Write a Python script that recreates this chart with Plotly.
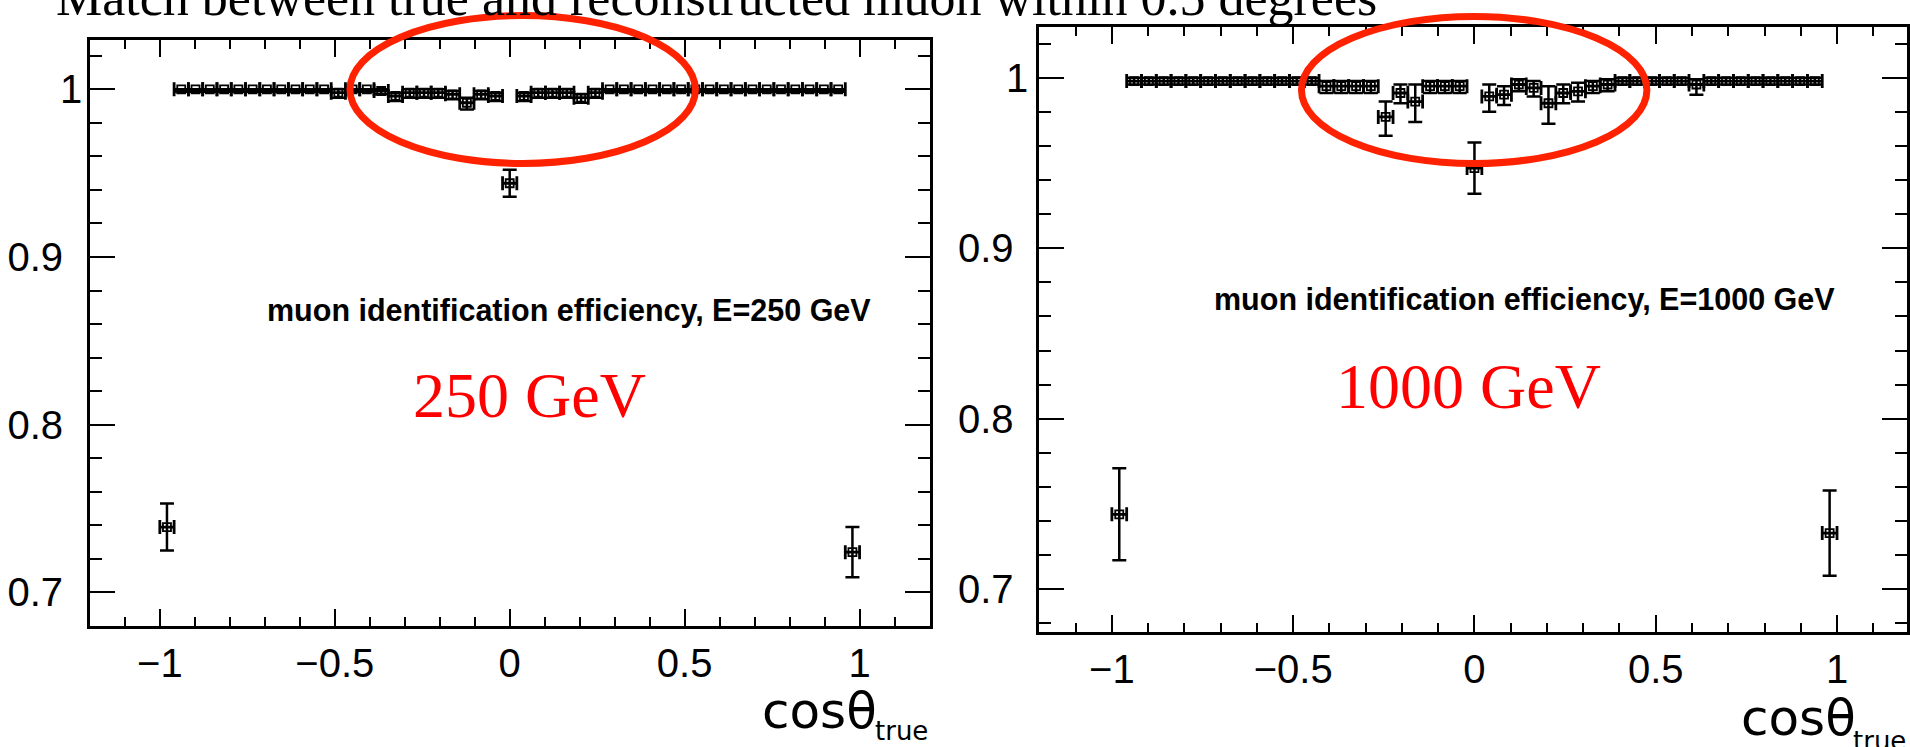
import plotly.graph_objects as go

W, H = 1910, 747

# ---- data ----
cos_theta = [-0.9796, -0.9388, -0.8980, -0.8571, -0.8163, -0.7755, -0.7347, -0.6939, -0.6531, -0.6122,
             -0.5714, -0.5306, -0.4898, -0.4490, -0.4082, -0.3673, -0.3265, -0.2857, -0.2449, -0.2041,
             -0.1633, -0.1224, -0.0816, -0.0408, 0.0, 0.0408, 0.0816, 0.1224, 0.1633, 0.2041,
             0.2449, 0.2857, 0.3265, 0.3673, 0.4082, 0.4490, 0.4898, 0.5306, 0.5714, 0.6122,
             0.6531, 0.6939, 0.7347, 0.7755, 0.8163, 0.8571, 0.8980, 0.9388, 0.9796]
bin_half_width = 0.0204

eff_250 = [0.739, 1.0, 1.0, 1.0, 1.0, 1.0, 1.0, 1.0, 1.0, 1.0,
           1.0, 1.0, 0.998, 1.0, 1.0, 0.999, 0.996, 0.998, 0.998, 0.998,
           0.997, 0.992, 0.997, 0.996, 0.944, 0.996, 0.998, 0.998, 0.998, 0.995,
           0.998, 1.0, 1.0, 1.0, 1.0, 1.0, 1.0, 1.0, 1.0, 1.0,
           1.0, 1.0, 1.0, 1.0, 1.0, 1.0, 1.0, 1.0, 0.724]
err_up_250 = [0.014, 0.0, 0.0, 0.0, 0.0, 0.0, 0.0, 0.0, 0.0, 0.0,
              0.0, 0.0, 0.002, 0.0, 0.0, 0.001, 0.002, 0.002, 0.002, 0.002,
              0.002, 0.003, 0.002, 0.002, 0.008, 0.002, 0.002, 0.002, 0.002, 0.002,
              0.002, 0.0, 0.0, 0.0, 0.0, 0.0, 0.0, 0.0, 0.0, 0.0,
              0.0, 0.0, 0.0, 0.0, 0.0, 0.0, 0.0, 0.0, 0.015]
err_dn_250 = [0.014, 0.0015, 0.0015, 0.0015, 0.0015, 0.0015, 0.0015, 0.0015, 0.0015, 0.0015,
              0.0015, 0.0015, 0.003, 0.0015, 0.0015, 0.002, 0.003, 0.003, 0.003, 0.003,
              0.003, 0.004, 0.003, 0.003, 0.008, 0.003, 0.003, 0.003, 0.003, 0.003,
              0.003, 0.0015, 0.0015, 0.0015, 0.0015, 0.0015, 0.0015, 0.0015, 0.0015, 0.0015,
              0.0015, 0.0015, 0.0015, 0.0015, 0.0015, 0.0015, 0.0015, 0.0015, 0.015]

eff_1000 = [0.744, 0.998, 0.998, 0.998, 0.998, 0.998, 0.998, 0.998, 0.998, 0.998,
            0.998, 0.998, 0.998, 0.998, 0.995, 0.995, 0.995, 0.995, 0.977, 0.991,
            0.986, 0.995, 0.995, 0.995, 0.947, 0.989, 0.990, 0.996, 0.994, 0.985,
            0.991, 0.992, 0.995, 0.996, 0.998, 0.998, 0.998, 0.998, 0.998, 0.996,
            0.998, 0.998, 0.998, 0.998, 0.998, 0.998, 0.998, 0.998, 0.733]
err_up_1000 = [0.027, 0.002, 0.002, 0.002, 0.002, 0.002, 0.002, 0.002, 0.002, 0.002,
               0.002, 0.002, 0.002, 0.002, 0.003, 0.003, 0.003, 0.003, 0.009, 0.005,
               0.010, 0.003, 0.003, 0.003, 0.015, 0.007, 0.005, 0.003, 0.004, 0.010,
               0.005, 0.005, 0.003, 0.003, 0.002, 0.002, 0.002, 0.002, 0.002, 0.003,
               0.002, 0.002, 0.002, 0.002, 0.002, 0.002, 0.002, 0.002, 0.025]
err_dn_1000 = [0.027, 0.002, 0.002, 0.002, 0.002, 0.002, 0.002, 0.002, 0.002, 0.002,
               0.002, 0.002, 0.002, 0.002, 0.004, 0.004, 0.004, 0.004, 0.011, 0.006,
               0.012, 0.004, 0.004, 0.004, 0.015, 0.009, 0.006, 0.004, 0.005, 0.012,
               0.006, 0.006, 0.004, 0.004, 0.002, 0.002, 0.002, 0.002, 0.002, 0.006,
               0.002, 0.002, 0.002, 0.002, 0.002, 0.002, 0.002, 0.002, 0.025]

y_tickvals = [0.7, 0.8, 0.9, 1.0]
y_ticktext = ["0.7", "0.8", "0.9", ""]   # the "1" label is placed separately (see below)
x_tickvals = [-1, -0.5, 0, 0.5, 1]
panel_labels = ["muon identification efficiency, E=250 GeV",
                "muon identification efficiency, E=1000 GeV"]
energy_labels = ["250 GeV", "1000 GeV"]
title_text = "Match between true and reconstructed muon within 0.5 degrees"


def px(x):
    return x / W


def py(y):
    return 1 - y / H


def trace(x, y, up, dn, xa, ya):
    return go.Scatter(
        x=x, y=y, mode="markers", xaxis=xa, yaxis=ya, showlegend=False,
        marker=dict(symbol="square-open", size=8, color="black", line=dict(width=1.8, color="black")),
        error_x=dict(type="constant", value=bin_half_width, color="black", thickness=2.8, width=7),
        error_y=dict(type="data", array=up, arrayminus=dn, symmetric=False,
                     color="black", thickness=2.5, width=7),
    )


fig = go.Figure()
fig.add_trace(trace(cos_theta, eff_250, err_up_250, err_dn_250, "x", "y"))
fig.add_trace(trace(cos_theta, eff_1000, err_up_1000, err_dn_1000, "x2", "y2"))

SANS = "Liberation Sans, Arial, sans-serif"
WIDE = "DejaVu Sans, Liberation Sans, sans-serif"
SERIF = "Liberation Serif, Times New Roman, serif"
tickfont = dict(family=SANS, size=40, color="black")


def xaxis(domain, rng, anchor):
    return dict(domain=domain, range=rng, anchor=anchor, showline=True, linecolor="black", linewidth=2.5,
                mirror="ticks", ticks="inside", ticklen=17, tickwidth=2, tickcolor="black",
                tickmode="array", tickvals=x_tickvals,
                showgrid=False, zeroline=False, tickfont=tickfont,
                ticklabelstandoff=0,
                minor=dict(ticks="inside", ticklen=9, tickwidth=2, tickcolor="black",
                           tick0=0, dtick=0.1, showgrid=False))


def yaxis(domain, rng, anchor, standoff):
    return dict(domain=domain, range=rng, anchor=anchor, showline=True, linecolor="black", linewidth=2.5,
                mirror="ticks", ticks="inside", ticklen=25, tickwidth=2, tickcolor="black",
                tickmode="array", tickvals=y_tickvals, ticktext=y_ticktext,
                showgrid=False, zeroline=False, tickfont=tickfont,
                ticklabelstandoff=standoff,
                minor=dict(ticks="inside", ticklen=12, tickwidth=2, tickcolor="black",
                           tick0=0.7, dtick=0.02, showgrid=False))


fig.update_layout(
    width=W, height=H, margin=dict(l=0, r=0, t=0, b=0),
    paper_bgcolor="white", plot_bgcolor="white",
    xaxis=xaxis([px(90), px(931)], [-1.2, 1.2], "y"),
    yaxis=yaxis([py(626), py(40)], [0.68, 1.0294], "x", 16),
    xaxis2=xaxis([px(1041), 1.0], [-1.2, 1.193], "y2"),
    yaxis2=yaxis([py(632), py(27)], [0.675, 1.0297], "x2", 15),
)

ann = []
# top (clipped) title
ann.append(dict(text=title_text, x=px(54), y=py(-2), xref="paper", yref="paper",
                xanchor="left", yanchor="middle", showarrow=False,
                font=dict(family=SERIF, size=52, color="black")))
# "1" tick labels
for xr, yr in [(84, "y"), (1032, "y2")]:
    ann.append(dict(text="1", x=px(xr), y=1.0, xref="paper", yref=yr,
                    xanchor="right", yanchor="middle", showarrow=False, font=tickfont))
# panel labels
for txt, cx, cy in [(panel_labels[0], 570, 310), (panel_labels[1], 1527, 299)]:
    ann.append(dict(text="<b>" + txt + "</b>", x=px(cx), y=py(cy), xref="paper", yref="paper",
                    xanchor="center", yanchor="middle", showarrow=False,
                    font=dict(family=SANS, size=30.5, color="black")))
for txt, cx, cy in [(energy_labels[0], 530, 395), (energy_labels[1], 1471, 386)]:
    ann.append(dict(text=txt, x=px(cx), y=py(cy), xref="paper", yref="paper",
                    xanchor="center", yanchor="middle", showarrow=False,
                    font=dict(family=SERIF, size=64, color="#ff0000")))
# axis titles
for xr, xt, yc, ys in [(880, 931, 711, 731), (1861, 1911, 718, 741)]:
    ann.append(dict(text="cosθ", x=px(xr), y=py(yc), xref="paper", yref="paper",
                    xanchor="right", yanchor="middle", showarrow=False,
                    font=dict(family=WIDE, size=50, color="black")))
    ann.append(dict(text="true", x=px(xt), y=py(ys), xref="paper", yref="paper",
                    xanchor="right", yanchor="middle", showarrow=False,
                    font=dict(family=WIDE, size=26, color="black")))
fig.update_layout(annotations=ann)

shapes = []
for x0, x1, y0, y1 in [(350.5, 696.5, 15.5, 163.5), (1303.5, 1649.5, 16.5, 163.5)]:
    shapes.append(dict(type="circle", xref="paper", yref="paper",
                       x0=px(x0), x1=px(x1), y0=py(y1), y1=py(y0),
                       line=dict(color="#ff2200", width=7), fillcolor="rgba(0,0,0,0)", layer="above"))
fig.update_layout(shapes=shapes)

fig.write_html("out.html")
